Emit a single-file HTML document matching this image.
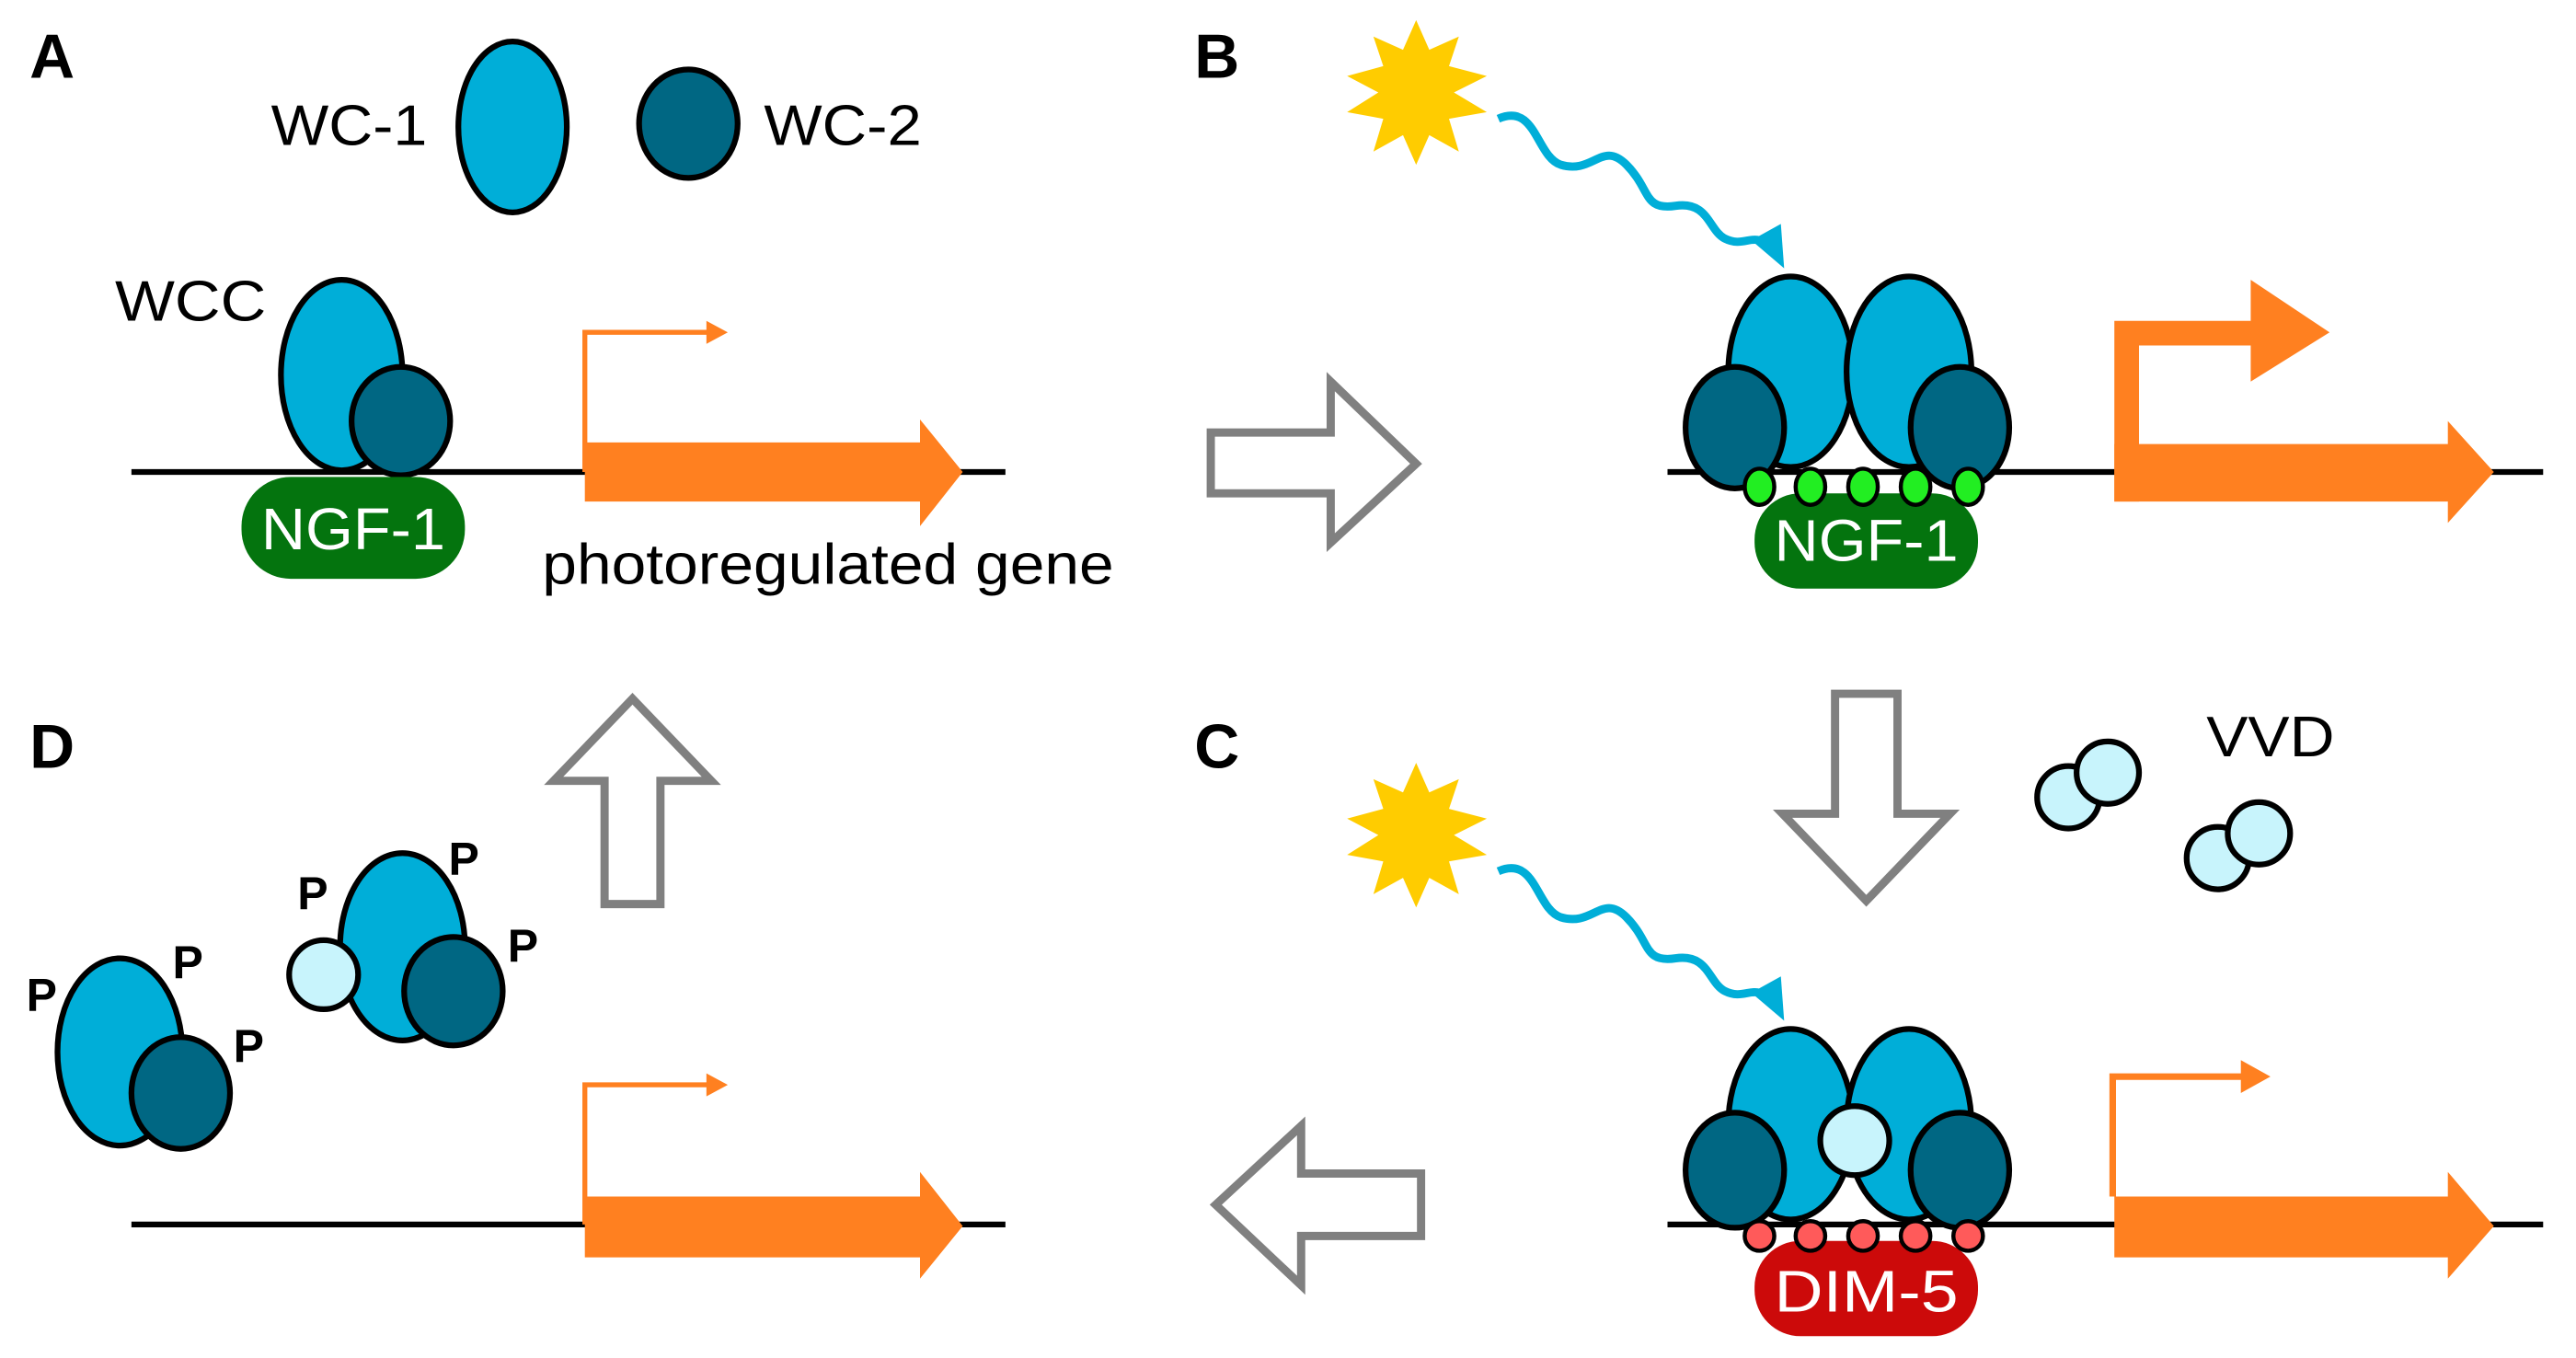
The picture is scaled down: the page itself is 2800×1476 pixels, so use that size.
<!DOCTYPE html>
<html><head><meta charset="utf-8"><style>html,body{margin:0;padding:0;background:#fff}svg{display:block}</style></head>
<body>
<svg width="2800" height="1476" viewBox="0 0 1568 826" xmlns="http://www.w3.org/2000/svg" font-family="Liberation Sans, sans-serif">
<g stroke="#000" stroke-width="3.5">
<!-- Panel A -->
<text x="18" y="47" font-size="38" font-weight="bold" stroke="none">A</text>
<text x="165" y="88" font-size="35" stroke="none" textLength="95" lengthAdjust="spacingAndGlyphs">WC-1</text>
<ellipse cx="312" cy="77" rx="33" ry="52" fill="#00aed8"/>
<ellipse cx="419" cy="75" rx="30" ry="33" fill="#006783"/>
<text x="465" y="88" font-size="35" stroke="none" textLength="96" lengthAdjust="spacingAndGlyphs">WC-2</text>
<text x="70" y="195" font-size="35" stroke="none" textLength="92" lengthAdjust="spacingAndGlyphs">WCC</text>
<line x1="80" y1="287" x2="612" y2="287"/>
<ellipse cx="208" cy="228" rx="37" ry="58" fill="#00aed8"/>
<ellipse cx="244" cy="256" rx="30" ry="33" fill="#006783"/>
<rect x="147" y="290" width="136" height="62" rx="30" fill="#04740e" stroke="none"/>
<text x="215" y="334" font-size="36" fill="#fff" stroke="none" text-anchor="middle" textLength="112" lengthAdjust="spacingAndGlyphs">NGF-1</text>
<polyline points="356,287 356,202 432,202" fill="none" stroke="#ff8020" stroke-width="3"/>
<polygon points="430,195 443,202 430,209" fill="#ff8020" stroke="none"/>
<polygon points="356,269 560,269 560,255 586,287 560,320 560,305 356,305" fill="#ff8020" stroke="none"/>
<text x="330" y="355" font-size="35" stroke="none" textLength="348" lengthAdjust="spacingAndGlyphs">photoregulated gene</text>

<polygon points="737,263 810,263 810,232 862,282 810,330 810,300 737,300" fill="#fff" stroke="#808080" stroke-width="5"/>

<!-- Panel B -->
<text x="727" y="47" font-size="38" font-weight="bold" stroke="none">B</text>
<polygon points="862,12 870,30 888,22 882,40 905,46 885,56 905,68 882,72 888,92 870,82 862,100 854,82 836,92 842,72 820,68 839,56 820,46 842,40 836,22 854,30" fill="#ffcc00" stroke="none"/>
<path d="M912,72 C935,62 935,95 950,100 C970,106 975,85 990,100 C1005,115 1000,128 1020,125 C1040,122 1040,140 1050,145 C1062,151 1068,140 1076,150" fill="none" stroke="#00aed8" stroke-width="5"/>
<polygon points="1066,146 1086,163 1084,136" fill="#00aed8" stroke="none"/>
<line x1="1015" y1="287" x2="1548" y2="287"/>
<ellipse cx="1090" cy="226" rx="38" ry="58" fill="#00aed8"/>
<ellipse cx="1162" cy="226" rx="38" ry="58" fill="#00aed8"/>
<ellipse cx="1056" cy="260" rx="30" ry="37" fill="#006783"/>
<ellipse cx="1193" cy="260" rx="30" ry="37" fill="#006783"/>
<rect x="1068" y="300" width="136" height="58" rx="28" fill="#04740e" stroke="none"/>
<g fill="#22ee22" stroke-width="2.5">
<ellipse cx="1071" cy="296" rx="9" ry="11"/><ellipse cx="1102" cy="296" rx="9" ry="11"/><ellipse cx="1134" cy="296" rx="9" ry="11"/><ellipse cx="1166" cy="296" rx="9" ry="11"/><ellipse cx="1198" cy="296" rx="9" ry="11"/>
</g>
<text x="1136" y="341" font-size="36" fill="#fff" stroke="none" text-anchor="middle" textLength="112" lengthAdjust="spacingAndGlyphs">NGF-1</text>
<polygon points="1287,305 1287,195 1370,195 1370,170 1418,202 1370,232 1370,210 1302,210 1302,305" fill="#ff8020" stroke="none"/>
<polygon points="1287,270 1490,270 1490,256 1518,287 1490,318 1490,305 1287,305" fill="#ff8020" stroke="none"/>

<polygon points="1117,422 1155,422 1155,495 1187,495 1136,548 1085,495 1117,495" fill="#fff" stroke="#808080" stroke-width="5"/>

<text x="1343" y="460" font-size="35" stroke="none" textLength="78" lengthAdjust="spacingAndGlyphs">VVD</text>
<g fill="#c8f4fc">
<circle cx="1259" cy="485" r="19"/><circle cx="1283" cy="470" r="19"/>
<circle cx="1350" cy="522" r="19"/><circle cx="1375" cy="507" r="19"/>
</g>

<!-- Panel C -->
<text x="727" y="467" font-size="38" font-weight="bold" stroke="none">C</text>
<polygon points="862,464 870,482 888,474 882,492 905,498 885,508 905,520 882,524 888,544 870,534 862,552 854,534 836,544 842,524 820,520 839,508 820,498 842,492 836,474 854,482" fill="#ffcc00" stroke="none"/>
<path d="M912,530 C935,520 935,553 950,558 C970,564 975,543 990,558 C1005,573 1000,586 1020,583 C1040,580 1040,598 1050,603 C1062,609 1068,598 1076,608" fill="none" stroke="#00aed8" stroke-width="5"/>
<polygon points="1066,604 1086,621 1084,594" fill="#00aed8" stroke="none"/>
<line x1="1015" y1="745" x2="1548" y2="745"/>
<ellipse cx="1090" cy="684" rx="38" ry="58" fill="#00aed8"/>
<ellipse cx="1162" cy="684" rx="38" ry="58" fill="#00aed8"/>
<ellipse cx="1056" cy="712" rx="30" ry="35" fill="#006783"/>
<ellipse cx="1193" cy="712" rx="30" ry="35" fill="#006783"/>
<circle cx="1129" cy="694" r="21" fill="#c8f4fc"/>
<rect x="1068" y="755" width="136" height="58" rx="28" fill="#cc0a0a" stroke="none"/>
<g fill="#ff5a5a" stroke-width="2.5">
<circle cx="1071" cy="752" r="9"/><circle cx="1102" cy="752" r="9"/><circle cx="1134" cy="752" r="9"/><circle cx="1166" cy="752" r="9"/><circle cx="1198" cy="752" r="9"/>
</g>
<text x="1136" y="798" font-size="36" fill="#fff" stroke="none" text-anchor="middle" textLength="112" lengthAdjust="spacingAndGlyphs">DIM-5</text>
<polyline points="1286,728 1286,655 1366,655" fill="none" stroke="#ff8020" stroke-width="4"/>
<polygon points="1364,645 1382,655 1364,665" fill="#ff8020" stroke="none"/>
<polygon points="1287,728 1490,728 1490,713 1518,746 1490,778 1490,765 1287,765" fill="#ff8020" stroke="none"/>

<polygon points="865,714 792,714 792,685 740,733 792,782 792,752 865,752" fill="#fff" stroke="#808080" stroke-width="5"/>
<polygon points="368,550 402,550 402,475 433,475 385,425 337,475 368,475" fill="#fff" stroke="#808080" stroke-width="5"/>

<!-- Panel D -->
<text x="18" y="467" font-size="38" font-weight="bold" stroke="none">D</text>
<ellipse cx="73" cy="640" rx="38" ry="57" fill="#00aed8"/>
<ellipse cx="110" cy="665" rx="30" ry="34" fill="#006783"/>
<ellipse cx="245" cy="576" rx="38" ry="57" fill="#00aed8"/>
<ellipse cx="276" cy="603" rx="30" ry="33" fill="#006783"/>
<circle cx="197" cy="593" r="21" fill="#c8f4fc"/>
<g font-size="28" font-weight="bold" stroke="none">
<text x="16" y="615">P</text><text x="105" y="595">P</text><text x="142" y="646">P</text>
<text x="181" y="553">P</text><text x="273" y="532">P</text><text x="309" y="585">P</text>
</g>
<line x1="80" y1="745" x2="612" y2="745"/>
<polyline points="356,745 356,660 432,660" fill="none" stroke="#ff8020" stroke-width="3"/>
<polygon points="430,653 443,660 430,667" fill="#ff8020" stroke="none"/>
<polygon points="356,728 560,728 560,713 586,746 560,778 560,765 356,765" fill="#ff8020" stroke="none"/>
</g>
</svg>
</body></html>
